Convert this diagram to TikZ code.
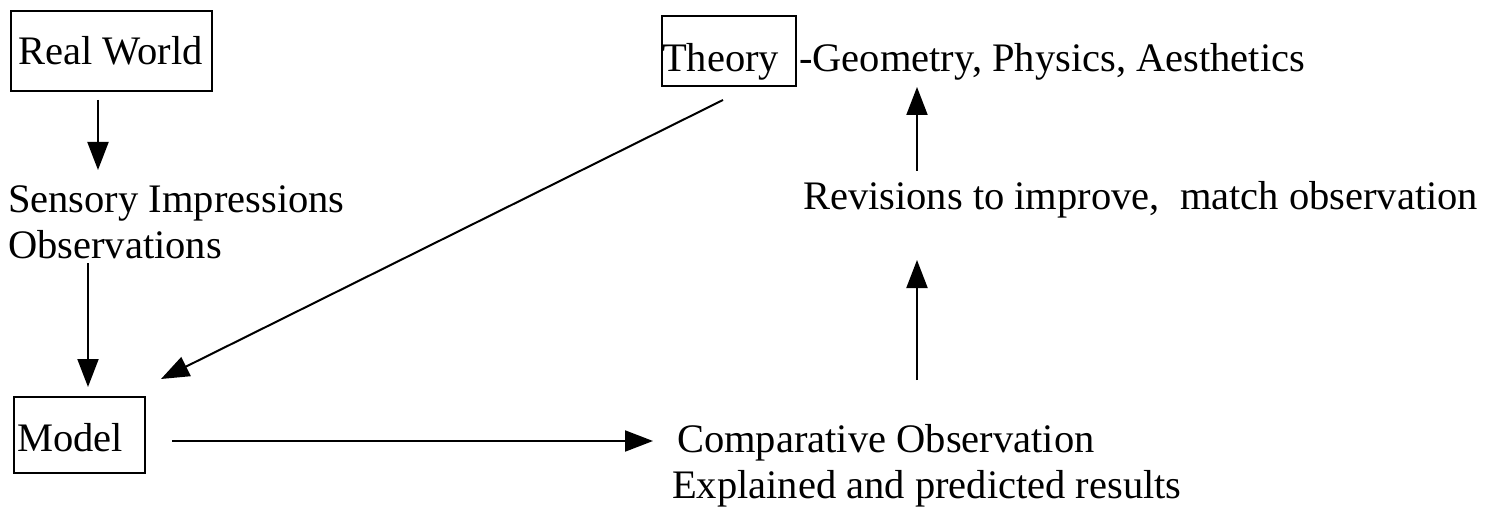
\documentclass[tikz,border=0pt]{standalone}
\usepackage{fontspec}
\setmainfont{Liberation Serif}
\usetikzlibrary{arrows.meta}
\tikzset{
  every picture/.style={
    line join=miter,
    >={Triangle[length=28pt,width=21pt]},
  },
  word/.style={inner sep=0pt, anchor=base west, font=\fontsize{40.5}{48}\selectfont},
  framed/.style={draw, line width=2.2pt, inner sep=0pt, anchor=north west},
  arr/.style={->, line width=2pt},
}

\begin{document}
\begin{tikzpicture}[x=1pt,y=-1pt]
\useasboundingbox (0,0) rectangle (1500,508);
% the boxes are drawn apart from their words: the words do not sit centred in them
\node[framed, minimum width=201, minimum height=80] (realbox) at (10,10) {};
\node[framed, minimum width=134, minimum height=70] (theorybox) at (661,15) {};
\node[framed, minimum width=131, minimum height=76] (modelbox) at (13,396) {};
\node[word] (real) at (18,65) {Real World};
\node[word] (theory) at (662,72) {Theory};
\node[word] (fields) at (799,72) {-Geometry, Physics, Aesthetics};
\node[word] (sensory) at (8,212) {Sensory Impressions};
\node[word] (obs) at (8,258) {Observations};
\node[word] (model) at (17,451) {Model};
\node[word] (revise) at (803,210) {Revisions to improve,\ \ match observation};
\node[word] (compare) at (677,452) {Comparative Observation};
\node[word] (explain) at (672,498) {Explained and predicted results};
% arrow ends stand off the words
\coordinate (real-out) at (98,100);
\coordinate (sensory-in) at (98,170);
\coordinate (obs-out) at (88,263);
\coordinate (model-in) at (88,387);
\coordinate (theory-out) at (723,100);
\coordinate (model-in2) at (161,379);
\coordinate (model-out) at (172,441);
\coordinate (compare-in) at (653,441);
\coordinate (compare-out) at (917,380);
\coordinate (revise-in) at (917,260);
\coordinate (revise-out) at (917,171);
\coordinate (theory-in) at (917,87);
\draw[arr] (real-out) -- (sensory-in);
\draw[arr] (obs-out) -- (model-in);
\draw[arr] (theory-out) -- (model-in2);
\draw[arr] (model-out) -- (compare-in);
\draw[arr] (compare-out) -- (revise-in);
\draw[arr] (revise-out) -- (theory-in);
\end{tikzpicture}
\end{document}
